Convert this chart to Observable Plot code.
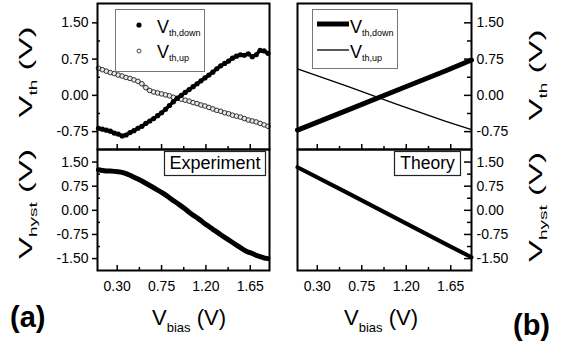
<!DOCTYPE html>
<html><head><meta charset="utf-8">
<script src="https://cdn.jsdelivr.net/npm/d3@7"></script>
<script src="https://cdn.jsdelivr.net/npm/@observablehq/plot@0.6"></script>
<style>
body{margin:0;background:#fff;}
#wrap{position:relative;width:568px;height:342px;overflow:hidden;background:#fff;}
#wrap svg{position:absolute;left:0;top:0;}
</style></head><body><div id="wrap"></div>
<script>
// ---------- data ----------
const biasExp = [0.11,0.15,0.19,0.23,0.27,0.31,0.35,0.39,0.43,0.47,0.51,0.55,0.59,0.63,0.67,0.71,0.75,0.79,0.83,0.87,0.91,0.95,0.99,1.03,1.07,1.11,1.15,1.19,1.23,1.27,1.31,1.35,1.39,1.43,1.47,1.51,1.55,1.59,1.63,1.67,1.71,1.75,1.79,1.83];
const thDownExp = [-0.68,-0.70,-0.72,-0.74,-0.78,-0.80,-0.84,-0.82,-0.77,-0.73,-0.68,-0.64,-0.58,-0.53,-0.48,-0.42,-0.36,-0.29,-0.21,-0.13,-0.06,0.00,0.06,0.12,0.18,0.24,0.30,0.36,0.42,0.48,0.55,0.61,0.66,0.71,0.77,0.81,0.84,0.83,0.86,0.80,0.84,0.93,0.92,0.87];
const thUpExp = [0.56,0.53,0.50,0.47,0.45,0.42,0.40,0.37,0.35,0.32,0.29,0.24,0.16,0.10,0.07,0.05,0.03,0.01,-0.01,-0.04,-0.06,-0.08,-0.10,-0.12,-0.15,-0.17,-0.20,-0.22,-0.25,-0.28,-0.31,-0.33,-0.36,-0.38,-0.41,-0.43,-0.45,-0.48,-0.51,-0.53,-0.55,-0.58,-0.61,-0.64];
const hystExp = [1.26,1.24,1.22,1.22,1.21,1.20,1.18,1.14,1.09,1.03,0.97,0.91,0.84,0.77,0.70,0.63,0.56,0.48,0.39,0.30,0.22,0.13,0.04,-0.06,-0.15,-0.23,-0.32,-0.42,-0.50,-0.59,-0.67,-0.76,-0.84,-0.92,-1.00,-1.08,-1.16,-1.24,-1.30,-1.34,-1.40,-1.44,-1.48,-1.50];
const biasTheory = [0.10, 0.60, 1.10, 1.60, 1.86];
const thDownTheory = [-0.72, -0.31, 0.10, 0.51, 0.73];
const thUpTheory = [0.55, 0.19, -0.18, -0.54, -0.71];
const hystTheory = [1.34, 0.55, -0.25, -1.05, -1.46];
const xTicks = [0.30, 0.75, 1.20, 1.65];
const xMinor = [0.525, 0.975, 1.425];
const thTicks = [1.50, 0.75, 0.00, -0.75];
const thMinor = [1.125, 0.375, -0.375];
const hystTicks = [1.50, 0.75, 0.00, -0.75, -1.50];
const hystMinor = [1.125, 0.375, -0.375, -1.125];

// ---------- layout ----------
const W = 568, H = 342;
const FONT = '"Liberation Sans", Arial, sans-serif';
const colL = {x0: 97, x1: 269, dom: [0.1, 1.845]};
const colR = {x0: 297, x1: 471, dom: [0.1, 1.86]};
const rowT = {y0: 3, y1: 149, dom: [-1.12, 1.9], ticks: thTicks, minor: thMinor};
const rowB = {y0: 149, y1: 270, dom: [-1.87, 1.89], ticks: hystTicks, minor: hystMinor};
const fmt = d => d.toFixed(2);

function panel(col, row, side, bottom, dataMarks) {
  const fw = col.x1 - col.x0, fh = row.y1 - row.y0;
  const marks = [...dataMarks,
    Plot.tickX(xTicks, {x: d => d, stroke: "black", strokeWidth: 1.5, insetTop: fh - 5}),
    Plot.tickX(xMinor, {x: d => d, stroke: "black", strokeWidth: 1.5, insetTop: fh - 3}),
  ];
  if (side === "left") {
    marks.push(Plot.axisY(row.ticks, {anchor: "left", tickSize: 5, tickPadding: 4, tickFormat: fmt, label: null, strokeWidth: 1.5}));
    marks.push(Plot.tickY(row.minor, {y: d => d, stroke: "black", strokeWidth: 1.5, insetRight: fw - 3}));
  } else {
    marks.push(Plot.tickY(row.ticks, {y: d => d, stroke: "black", strokeWidth: 1.5, insetLeft: fw - 7}));
    marks.push(Plot.tickY(row.minor, {y: d => d, stroke: "black", strokeWidth: 1.5, insetLeft: fw - 4}));
    marks.push(Plot.axisY(row.ticks, {anchor: "right", tickSize: 0, tickPadding: 5, tickFormat: fmt, label: null}));
  }
  if (bottom) marks.push(Plot.axisX(xTicks, {anchor: "bottom", tickSize: 0, tickPadding: 11, tickFormat: fmt, label: null}));
  marks.push(Plot.frame({stroke: "black", strokeWidth: 2}));
  return Plot.plot({
    width: W, height: H,
    marginLeft: col.x0, marginRight: W - col.x1, marginTop: row.y0, marginBottom: H - row.y1,
    x: {domain: col.dom, axis: null},
    y: {domain: row.dom, axis: null},
    style: {background: "transparent", fontFamily: FONT, fontSize: "14px", color: "black", overflow: "visible"},
    marks
  });
}

const expTh = biasExp.map((b, i) => ({b, down: thDownExp[i], up: thUpExp[i], hyst: hystExp[i]}));
const theo = biasTheory.map((b, i) => ({b, down: thDownTheory[i], up: thUpTheory[i], hyst: hystTheory[i]}));

const wrap = document.getElementById("wrap");
wrap.append(panel(colL, rowT, "left", false, [
  Plot.line(expTh, {x: "b", y: "up", stroke: "#999", strokeWidth: 4}),
  Plot.dot(expTh, {x: "b", y: "up", r: 2.3, stroke: "#222", strokeWidth: 0.9, fill: "#e8e8e8"}),
  Plot.line(expTh, {x: "b", y: "down", stroke: "black", strokeWidth: 3.5}),
  Plot.dot(expTh, {x: "b", y: "down", r: 2.6, fill: "black", stroke: "none"})
]));
wrap.append(panel(colL, rowB, "left", true, [
  Plot.line(expTh, {x: "b", y: "hyst", stroke: "black", strokeWidth: 5})
]));
wrap.append(panel(colR, rowT, "right", false, [
  Plot.line(theo, {x: "b", y: "up", stroke: "black", strokeWidth: 1.3}),
  Plot.line(theo, {x: "b", y: "down", stroke: "black", strokeWidth: 5})
]));
wrap.append(panel(colR, rowB, "right", true, [
  Plot.line(theo, {x: "b", y: "hyst", stroke: "black", strokeWidth: 4})
]));

// ---------- overlay: titles, legends, labels ----------
const svg = d3.select(wrap).append("svg").attr("width", W).attr("height", H)
  .style("font-family", FONT).style("pointer-events", "none");

function subText(g, x, y, main, sub, size, subSize, dy, anchor) {
  const t = g.append("text").attr("x", x).attr("y", y).attr("font-size", size).attr("text-anchor", anchor || "start");
  t.append("tspan").text("V");
  t.append("tspan").attr("font-size", subSize).attr("dy", dy).text(sub);
  if (main) t.append("tspan").attr("dy", -dy).text(main);
  return t;
}
function yTitle(bx, cy, sub) {
  const g = svg.append("g").attr("transform", `translate(${bx},${cy}) rotate(-90) scale(1,0.57)`);
  subText(g, 0, 0, " (V)", sub, 33, 19, 9, "middle");
}
yTitle(31.5, 72, "th");
yTitle(31.5, 204, "hyst");
yTitle(542, 75, "th");
yTitle(542, 207, "hyst");
subText(svg, 152, 325, " (V)", "bias", 22, 13, 7);
subText(svg, 344, 325, " (V)", "bias", 22, 13, 7);

// legends
svg.append("rect").attr("x", 115.5).attr("y", 9.5).attr("width", 89).attr("height", 62).attr("fill", "none").attr("stroke", "#777");
svg.append("circle").attr("cx", 139).attr("cy", 25).attr("r", 2.6).attr("fill", "black");
svg.append("circle").attr("cx", 139).attr("cy", 51).attr("r", 2).attr("fill", "white").attr("stroke", "#333").attr("stroke-width", 0.9);
subText(svg, 157, 33, null, "th,down", 18, 9, 3);
subText(svg, 157, 58, null, "th,up", 18, 9, 3);

svg.append("rect").attr("x", 312.5).attr("y", 9.5).attr("width", 85).attr("height", 59).attr("fill", "none").attr("stroke", "#777");
svg.append("line").attr("x1", 317).attr("x2", 349).attr("y1", 24).attr("y2", 24).attr("stroke", "black").attr("stroke-width", 5);
svg.append("line").attr("x1", 317).attr("x2", 349).attr("y1", 50).attr("y2", 50).attr("stroke", "black").attr("stroke-width", 1.3);
subText(svg, 350, 33, null, "th,down", 18, 9, 3);
subText(svg, 350, 58, null, "th,up", 18, 9, 3);

// annotation boxes
svg.append("rect").attr("x", 164.5).attr("y", 151.5).attr("width", 101).attr("height", 24).attr("fill", "white").attr("stroke", "#222").attr("stroke-width", 1.2);
svg.append("text").attr("x", 215).attr("y", 169).attr("text-anchor", "middle").attr("font-size", 18).text("Experiment");
svg.append("rect").attr("x", 394.5).attr("y", 151.5).attr("width", 66).attr("height", 24).attr("fill", "white").attr("stroke", "#222").attr("stroke-width", 1.2);
svg.append("text").attr("x", 427.5).attr("y", 169).attr("text-anchor", "middle").attr("font-size", 17.5).text("Theory");

// panel letters
svg.append("text").attr("x", 10).attr("y", 327).attr("font-size", 29).attr("font-weight", "bold").text("(a)");
svg.append("text").attr("x", 513).attr("y", 335).attr("font-size", 29).attr("font-weight", "bold").text("(b)");
</script></body></html>
